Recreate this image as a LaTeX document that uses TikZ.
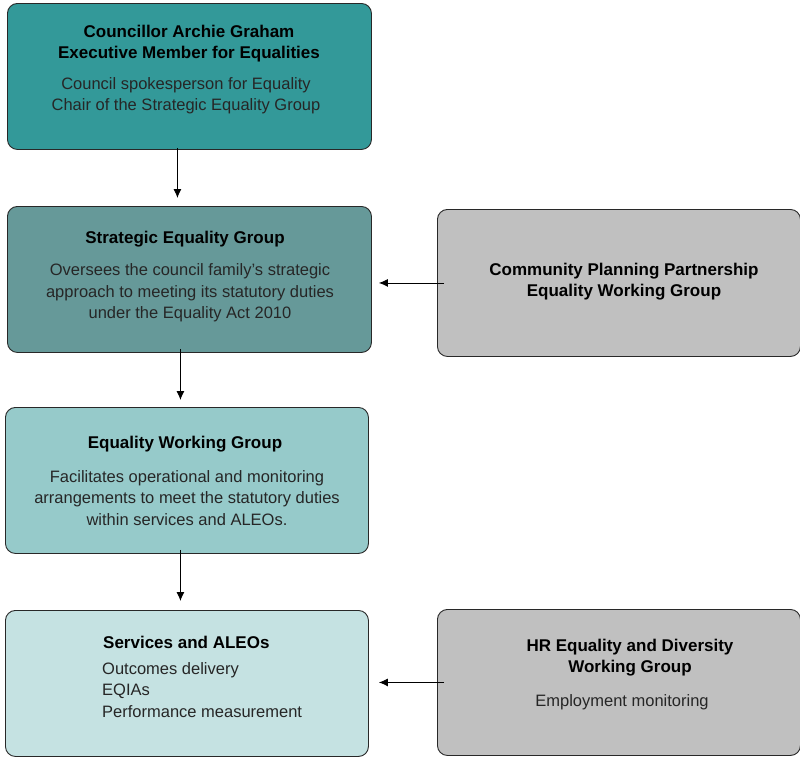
\documentclass[tikz,border=0pt]{standalone}
\usepackage{fontspec}
\setmainfont{Liberation Sans}
\usetikzlibrary{calc,arrows.meta}
\definecolor{cA}{RGB}{51,153,153}
\definecolor{cB}{RGB}{102,153,153}
\definecolor{cC}{RGB}{150,202,202}
\definecolor{cD}{RGB}{197,226,226}
\definecolor{cG}{RGB}{192,192,192}
\definecolor{edge}{RGB}{40,40,40}
\tikzset{
  box/.style={draw=edge, line width=0.9pt, rounded corners=10pt, minimum width=364pt, minimum height=146pt, inner sep=0pt},
  ttl/.style={font=\fontsize{17}{21}\selectfont\bfseries, align=center, text=black, inner sep=0pt},
  txt/.style={font=\fontsize{16.5}{21.3}\selectfont, align=center, text=black!85, inner sep=0pt},
  conn/.style={draw=black, line width=0.9pt, -{Latex[length=9pt,width=8pt]}}
}
\begin{document}
\begin{tikzpicture}[x=1pt,y=-1pt]
\useasboundingbox (0,0) rectangle (800,761);
% boxes
\node[box, fill=cA, anchor=north west] (cllr) at (7,3) {};
\node[box, fill=cB, anchor=north west] (seg) at (7,206) {};
\node[box, fill=cG, anchor=north west, minimum width=363pt, minimum height=147pt] (cpp) at (437,209) {};
\node[box, fill=cC, anchor=north west, minimum width=363pt] (ewg) at (5,407) {};
\node[box, fill=cD, anchor=north west, minimum width=363pt] (svc) at (5,610) {};
\node[box, fill=cG, anchor=north west, minimum width=363pt] (hr) at (437,609) {};
% texts
\node[ttl] (cllrT) at (189,43.5) {Councillor Archie Graham\\Executive Member for Equalities};
\node[txt] (cllrB) at (186,95.5) {Council spokesperson for Equality\\Chair of the Strategic Equality Group};
\node[ttl] (segT) at (185,239) {Strategic Equality Group};
\node[txt] (segB) at (190,293) {Oversees the council family's strategic\\approach to meeting its statutory duties\\under the Equality Act 2010};
\node[ttl] (cppT) at (624,281.5) {Community Planning Partnership\\Equality Working Group};
\node[ttl] (ewgT) at (185,444) {Equality Working Group};
\node[txt] (ewgB) at (187,498) {Facilitates operational and monitoring\\arrangements to meet the statutory duties\\within services and ALEOs.};
\node[ttl, anchor=west] (svcT) at (103,642) {Services and ALEOs};
\node[txt, font=\fontsize{16.5}{21.7}\selectfont, align=left, anchor=north west] (svcB) at (102,662) {Outcomes delivery\\EQIAs\\Performance measurement};
\node[ttl] (hrT) at (630,657.5) {HR Equality and Diversity\\Working Group};
\node[txt] (hrB) at (622,702) {Employment monitoring};
% connectors
\draw[conn] ([xshift=-12pt,yshift=2pt]cllr.south) -- ([xshift=-12pt,yshift=8pt]seg.north);
\draw[conn] ([xshift=-9pt,yshift=4pt]seg.south) -- ([xshift=-9pt,yshift=7pt]ewg.north -| seg.south);
\draw[conn] ([xshift=-6.5pt,yshift=4pt]ewg.south) -- ([xshift=-6.5pt,yshift=9pt]svc.north);
\draw[conn] ([xshift=7pt]cpp.west) -- ([xshift=7pt]seg.east |- cpp.west);
\draw[conn] ([xshift=7pt]hr.west) -- ([xshift=10pt]svc.east |- hr.west);
\end{tikzpicture}
\end{document}
